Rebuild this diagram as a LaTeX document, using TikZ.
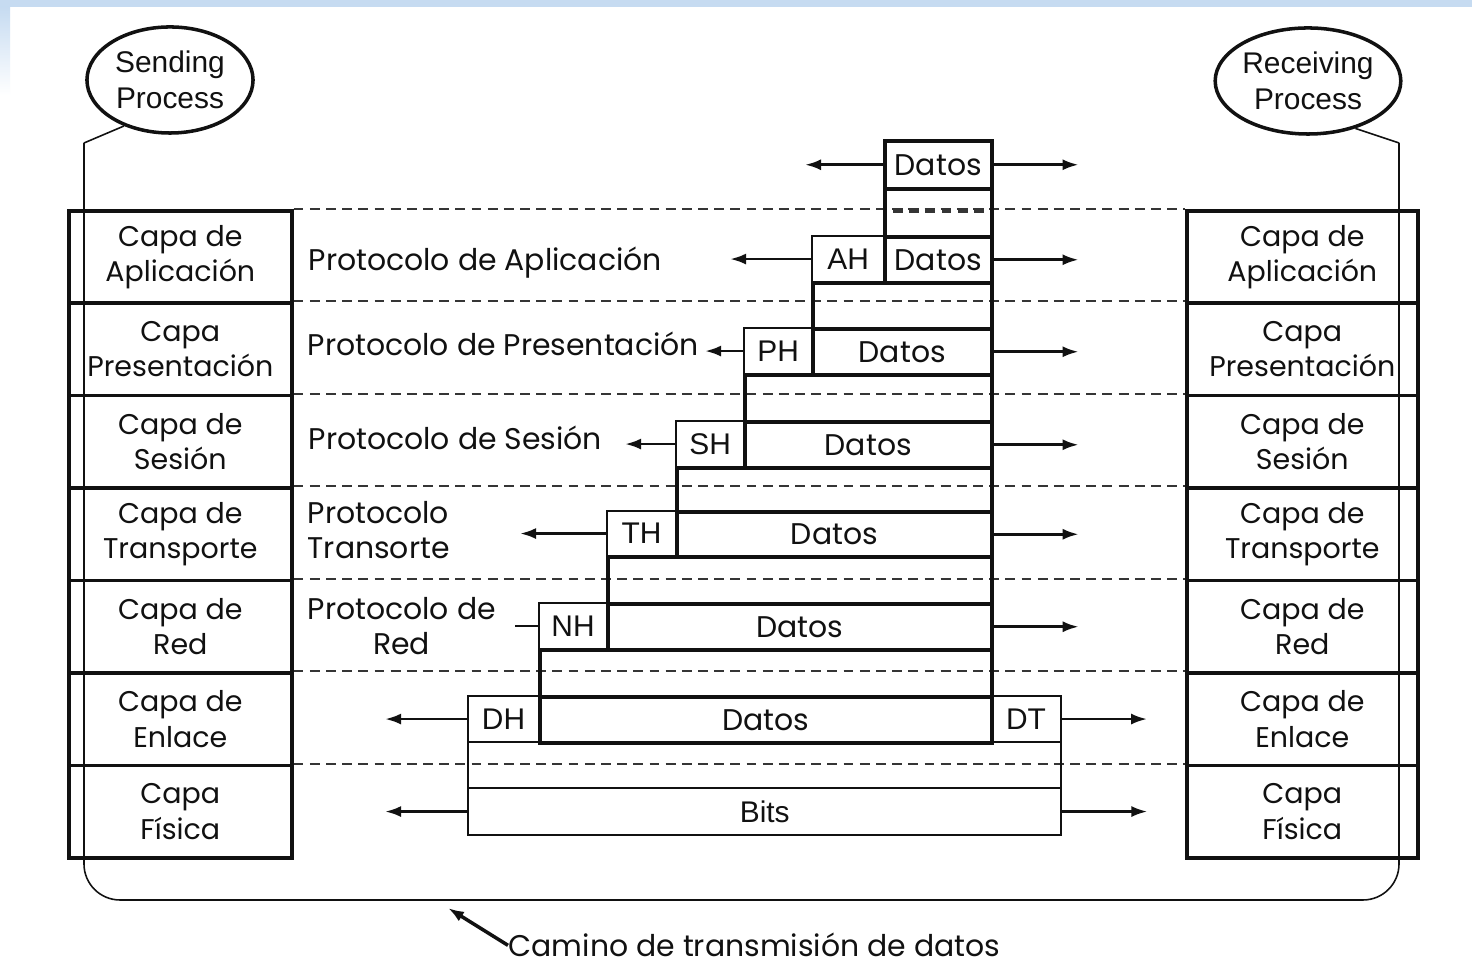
\documentclass[tikz,border=0pt]{standalone}
\usepackage{fontspec}
\usetikzlibrary{arrows.meta,shapes.geometric}
\newfontfamily\geofont{Poppins}
\newfontfamily\helvfont{Liberation Sans}
\definecolor{ink}{HTML}{111111}
\definecolor{band}{HTML}{C6DBF1}

\begin{document}
\begin{tikzpicture}[x=0.01cm,y=-0.01cm,text=ink,>={Latex[length=1.6mm,width=1.1mm]},
  layer/.style={draw=ink,line width=1pt,minimum height=0.924cm,inner sep=0pt,
    anchor=north west,align=center,font=\geofont\fontsize{8.1}{10}\selectfont},
  proc/.style={ellipse,draw=ink,line width=1pt,inner sep=0pt,align=center,
    font=\helvfont\fontsize{8.5}{10.2}\selectfont},
  dat/.style={draw=ink,line width=1pt,inner sep=0pt,anchor=north west,
    font=\geofont\fontsize{8.5}{10}\selectfont},
  gap/.style={draw=ink,line width=1pt,inner sep=0pt,anchor=north west},
  hdr/.style={draw=ink,line width=.6pt,inner sep=0pt,anchor=north west,
    font=\helvfont\fontsize{8.5}{10}\selectfont},
  proto/.style={inner sep=0pt,font=\geofont\fontsize{8.5}{10}\selectfont},
  dashline/.style={ink!85,line width=.6pt,dash pattern=on 2.8pt off 1.8pt},
  wire/.style={ink,line width=.45pt},
  arr/.style={->,ink,line width=.8pt}]
  \useasboundingbox (0,0) rectangle (1472,965);
  \fill[white] (0,0) rectangle (1472,965);
  \fill[band] (0,0) rectangle (1472,7);
  \shade[top color=band,bottom color=white] (0,7) rectangle (10,95);

  % end systems
  \node[proc,minimum width=1.66cm,minimum height=1.06cm] (send) at (170,80)
    {Sending\\Process};
  \node[proc,minimum width=1.72cm,minimum height=1.06cm] (recv) at (1308,81)
    {Receiving\\Process};
  \coordinate (sbend) at (84,143);
  \coordinate (rbend) at (1399,143);
  \coordinate (sfoot) at (84,900);
  \coordinate (rfoot) at (1399,900);
  \draw[wire] (send.225) -- (sbend);
  \draw[wire] (recv.315) -- (rbend);
  \draw[wire,rounded corners=0.36cm] (sbend) -- (sfoot) -- (rfoot) -- (rbend);

  % layer stacks
  \node[layer,minimum width=2.23cm] (L1) at (67,209.0) {Capa de\\Aplicación};
  \node[layer,minimum width=2.23cm] (L2) at (67,301.4) {Capa\\Presentación};
  \node[layer,minimum width=2.23cm] (L3) at (67,393.9) {Capa de\\Sesión};
  \node[layer,minimum width=2.23cm] (L4) at (67,486.3) {Capa de\\Transporte};
  \node[layer,minimum width=2.23cm] (L5) at (67,578.7) {Capa de\\Red};
  \node[layer,minimum width=2.23cm] (L6) at (67,671.1) {Capa de\\Enlace};
  \node[layer,minimum width=2.23cm] (L7) at (67,763.6) {Capa\\Física};
  \node[layer,minimum width=2.31cm] (R1) at (1185,209.0) {Capa de\\Aplicación};
  \node[layer,minimum width=2.31cm] (R2) at (1185,301.4) {Capa\\Presentación};
  \node[layer,minimum width=2.31cm] (R3) at (1185,393.9) {Capa de\\Sesión};
  \node[layer,minimum width=2.31cm] (R4) at (1185,486.3) {Capa de\\Transporte};
  \node[layer,minimum width=2.31cm] (R5) at (1185,578.7) {Capa de\\Red};
  \node[layer,minimum width=2.31cm] (R6) at (1185,671.1) {Capa de\\Enlace};
  \node[layer,minimum width=2.31cm] (R7) at (1185,763.6) {Capa\\Física};

  % peer protocol boundaries
  \draw[dashline] (L1.north east) -- (R1.north west);
  \draw[dashline] (L2.north east) -- (R2.north west);
  \draw[dashline] (L3.north east) -- (R3.north west);
  \draw[dashline] (L4.north east) -- (R4.north west);
  \draw[dashline] (L5.north east) -- (R5.north west);
  \draw[dashline] (L6.north east) -- (R6.north west);
  \draw[dashline] (L7.north east) -- (R7.north west);

  \node[proto,anchor=base west] (pa) at (308,271) {Protocolo de Aplicación};
  \node[proto,anchor=base west] (pp) at (307,356) {Protocolo de Presentación};
  \node[proto,anchor=base west] (ps) at (308,450) {Protocolo de Sesión};
  \node[proto,anchor=west,align=left] (pt) at (307,530) {Protocolo\\Transorte};
  \node[proto,anchor=west,align=center] (pr) at (307,626) {Protocolo de\\Red};

  % packet as it goes down
  \node[dat,minimum width=1.07cm,minimum height=.48cm] (d0) at (883,139) {Datos};
  \node[gap,minimum width=1.07cm,minimum height=.48cm] (g0) at (883,187) {};
  \draw[dashline,line width=1.3pt] ([xshift=.1cm,yshift=.02cm]g0.west)
    -- ([xshift=-.1cm,yshift=.02cm]g0.east);
  \node[hdr,minimum width=.72cm,minimum height=.46cm] (ah) at (811,235) {AH};
  \node[dat,minimum width=1.07cm,minimum height=.46cm] (da) at (883,235) {Datos};
  \node[gap,minimum width=1.79cm,minimum height=.46cm] (g1) at (811,281) {};
  \node[hdr,minimum width=.68cm,minimum height=.46cm] (ph) at (743,327) {PH};
  \node[dat,minimum width=1.79cm,minimum height=.46cm] (dp) at (811,327) {Datos};
  \node[gap,minimum width=2.47cm,minimum height=.47cm] (g2) at (743,373) {};
  \node[hdr,minimum width=.68cm,minimum height=.46cm] (sh) at (675,420) {SH};
  \node[dat,minimum width=2.47cm,minimum height=.46cm] (ds) at (743,420) {Datos};
  \node[gap,minimum width=3.15cm,minimum height=.44cm] (g3) at (675,466) {};
  \node[hdr,minimum width=.69cm,minimum height=.45cm] (th) at (606,510) {TH};
  \node[dat,minimum width=3.15cm,minimum height=.45cm] (dt) at (675,510) {Datos};
  \node[gap,minimum width=3.84cm,minimum height=.47cm] (g4) at (606,555) {};
  \node[hdr,minimum width=.68cm,minimum height=.46cm] (nh) at (538,602) {NH};
  \node[dat,minimum width=3.84cm,minimum height=.46cm] (dn) at (606,602) {Datos};
  \node[gap,minimum width=4.52cm,minimum height=.47cm] (g5) at (538,648) {};
  \node[hdr,minimum width=.71cm,minimum height=.46cm] (dh) at (467,695) {DH};
  \node[hdr,minimum width=.70cm,minimum height=.46cm] (tr) at (990,695) {DT};
  \node[dat,minimum width=4.52cm,minimum height=.46cm] (dd) at (538,695) {Datos};
  \node[hdr,minimum width=5.93cm,minimum height=.46cm] (g6) at (467,741) {};
  \node[hdr,minimum width=5.93cm,minimum height=.47cm] (bits) at (467,787) {Bits};

  % to and from the peer layers
  \draw[arr] (d0.west) -- ++(-78,0) coordinate (d0l);
  \draw[arr] (ah.west) -- ++(-81,0) coordinate (ahl);
  \draw[arr] (ph.west) -- ++(-38,0) coordinate (phl);
  \draw[arr] (sh.west) -- ++(-50,0) coordinate (shl);
  \draw[arr] (th.west) -- ++(-86,0) coordinate (thl);
  \draw[ink,line width=.8pt] (nh.west) -- ++(-23,0) coordinate (nhl);
  \draw[arr] (dh.west) -- ++(-82,0) coordinate (dhl);
  \draw[arr] (bits.west) -- ++(-82,0) coordinate (bitsl);
  \draw[arr] (d0.east) -- ++(85,0) coordinate (d0r);
  \draw[arr] (da.east) -- ++(85,0) coordinate (dar);
  \draw[arr] (dp.east) -- ++(85,0) coordinate (dpr);
  \draw[arr] (ds.east) -- ++(85,0) coordinate (dsr);
  \draw[arr] (dt.east) -- ++(85,0) coordinate (dtr);
  \draw[arr] (dn.east) -- ++(85,0) coordinate (dnr);
  \draw[arr] (tr.east) -- ++(85,0) coordinate (trr);
  \draw[arr] (bits.east) -- ++(85,0) coordinate (bitsr);

  \node[proto,anchor=base west] (camino) at (508,957) {Camino de transmisión de datos};
  \coordinate (pathtip) at (448,908);
  \draw[arr,line width=1pt] (camino.west) -- (pathtip);
\end{tikzpicture}
\end{document}
